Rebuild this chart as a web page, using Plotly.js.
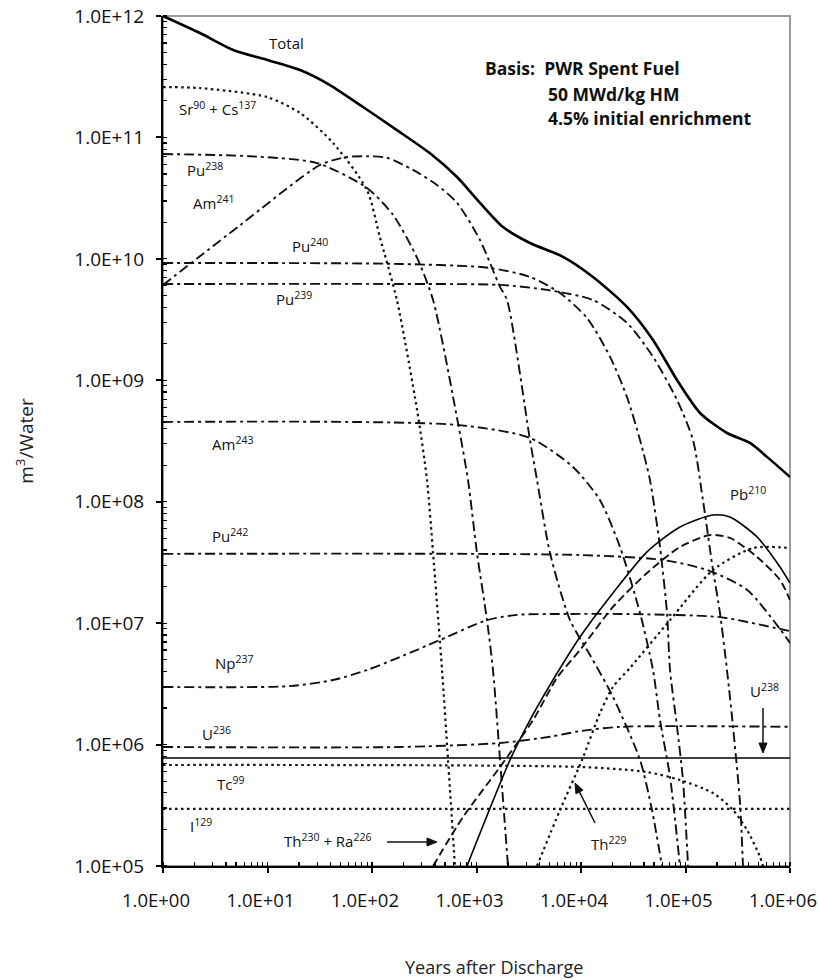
<!DOCTYPE html>
<html><head><meta charset="utf-8">
<script src="https://cdn.plot.ly/plotly-3.0.1.min.js"></script>
<style>html,body{margin:0;padding:0;background:#fff}</style>
</head><body>
<div id="chart" style="width:818px;height:980px"></div>
<script>
// ---- data (years after discharge, m3 water) ----
const totalX = [1, 2.26, 4.7, 9.9, 20.5, 39.6, 82, 173, 359, 651, 1080, 1794, 3250, 6730, 13030, 27540, 48860, 82980, 137700, 249500, 414000, 602500, 1000000];
const totalY = [1.0e12, 7.24e11, 5.25e11, 4.35e11, 3.59e11, 2.70e11, 1.78e11, 1.15e11, 7.4e10, 4.72e10, 2.89e10, 1.83e10, 1.35e10, 1.04e10, 7.1e9, 4.02e9, 2.15e9, 1.005e9, 5.38e8, 3.68e8, 3.05e8, 2.34e8, 1.60e8];

const srcsX = [1, 2.26, 9.9, 20.5, 42.4, 89.5, 119, 173, 270, 336, 384, 468, 534, 622];
const srcsY = [2.60e11, 2.55e11, 2.15e11, 1.59e11, 9.0e10, 3.69e10, 1.51e10, 4.58e9, 5.69e8, 1.51e8, 3.78e7, 4.11e6, 7.47e5, 1.0e5];

const pu238X = [1, 6.8, 29.8, 89.5, 159, 270, 384, 665, 829, 1011, 1260, 1438, 1679, 2001];
const pu238Y = [7.3e10, 7.0e10, 6.15e10, 3.84e10, 2.30e10, 1.02e10, 4.58e9, 4.45e8, 1.51e8, 3.78e7, 1.06e7, 4.11e6, 7.47e5, 1.0e5];

const am241X = [1, 5.5, 31.8, 57.6, 89.5, 139, 247, 419, 651, 1080, 1679, 1960, 3250, 3793, 5050, 7850, 12190, 20240, 36720, 47780, 59570];
const am241Y = [6.1e9, 1.90e10, 5.93e10, 6.9e10, 7.0e10, 6.8e10, 5.4e10, 4.06e10, 2.89e10, 1.43e10, 5.87e9, 4.58e9, 3.22e8, 1.51e8, 3.78e7, 1.06e7, 5.47e6, 2.47e6, 7.47e5, 2.89e5, 1.0e5];

const pu240X = [1, 185, 1346, 3250, 6295, 11410, 18970, 27540, 36720, 45710, 57020, 66530, 71120, 82980, 94590, 105700];
const pu240Y = [9.25e9, 9.08e9, 8.42e9, 7.1e9, 5.24e9, 3.26e9, 1.56e9, 7.28e8, 3.22e8, 1.51e8, 4.24e7, 1.21e7, 4.11e6, 1.40e6, 5.11e5, 1.0e5];

const pu239X = [1, 185, 1679, 4731, 13030, 27540, 48860, 82980, 118000, 146900, 183200, 213800, 249500, 285000, 332500, 355000];
const pu239Y = [6.21e9, 6.21e9, 6.10e9, 5.55e9, 4.58e9, 2.97e9, 1.56e9, 6.88e8, 3.22e8, 1.03e8, 2.74e7, 1.21e7, 4.11e6, 1.40e6, 3.30e5, 1.0e5];

const am243X = [1, 651, 3250, 8380, 15200, 23610, 36720, 48860, 57020, 71120, 88520];
const am243Y = [4.54e8, 4.29e8, 3.35e8, 1.93e8, 1.03e8, 4.24e7, 1.21e7, 4.11e6, 1.59e6, 5.41e5, 1.0e5];

const pu242X = [1, 9780, 60950, 160600, 388000, 802000, 1000000];
const pu242Y = [3.72e7, 3.64e7, 3.31e7, 2.74e7, 1.88e7, 8.95e6, 6.87e6];

const np237X = [1, 16.4, 42.4, 89.5, 185, 448, 1260, 2443, 7345, 23610, 213800, 802000, 1000000];
const np237Y = [2.98e6, 3.03e6, 3.40e6, 4.11e6, 5.26e6, 7.26e6, 1.06e7, 1.17e7, 1.19e7, 1.19e7, 1.12e7, 8.95e6, 8.6e6];

const u236X = [1, 185, 1679, 5050, 9780, 23610, 1000000];
const u236Y = [9.55e5, 9.55e5, 1.03e6, 1.16e6, 1.29e6, 1.40e6, 1.40e6];

const u238X = [1, 1000000];
const u238Y = [7.76e5, 7.76e5];

const tc99X = [1, 9780, 42850, 88520, 183200, 285000, 388000, 516700, 552000];
const tc99Y = [6.79e5, 6.54e5, 5.94e5, 5.11e5, 3.99e5, 2.89e5, 1.98e5, 1.19e5, 1.0e5];

const i129X = [1, 1000000];
const i129Y = [2.95e5, 2.95e5];

const th229X = [3793, 6295, 10230, 15200, 20240, 29440, 71120, 183200, 442500, 1000000];
const th229Y = [1.0e5, 2.89e5, 7.47e5, 1.82e6, 2.98e6, 4.28e6, 1.06e7, 2.74e7, 4.16e7, 4.16e7];

const pb210X = [811, 2093, 3250, 5395, 9780, 20240, 42850, 88520, 183200, 266600, 483500, 802000, 1000000];
const pb210Y = [1.0e5, 7.47e5, 1.59e6, 3.40e6, 7.69e6, 1.77e7, 3.86e7, 6.19e7, 7.78e7, 7.48e7, 5.13e7, 2.90e7, 2.14e7];

const thraX = [384, 743, 1679, 3474, 5890, 9780, 20240, 42850, 88520, 171400, 266600, 483500, 802000, 1000000];
const thraY = [1.0e5, 2.53e5, 6.54e5, 1.59e6, 3.54e6, 6.01e6, 1.36e7, 2.59e7, 4.24e7, 5.32e7, 5.03e7, 3.51e7, 2.27e7, 1.55e7];

const seriesNames = ['Total', 'Sr90 + Cs137', 'Pu238', 'Am241', 'Pu240', 'Pu239', 'Am243', 'Pu242', 'Np237', 'U236', 'U238', 'Tc99', 'I129', 'Th229', 'Pb210', 'Th230 + Ra226'];

const xTickVals = [1, 10, 100, 1000, 10000, 100000, 1000000];
const xTickText = ['1.0E+00', '1.0E+01', '1.0E+02', '1.0E+03', '1.0E+04', '1.0E+05', '1.0E+06'];
const yTickVals = [1e5, 1e6, 1e7, 1e8, 1e9, 1e10, 1e11, 1e12];
const yTickText = ['1.0E+05', '1.0E+06', '1.0E+07', '1.0E+08', '1.0E+09', '1.0E+10', '1.0E+11', '1.0E+12'];
const xTitle = 'Years after Discharge';
const yTitle = 'm<sup>3</sup>/Water';

// ---- styles ----
const DASHDOT = '10px,4px,3px,4px';
const DOT = '2.5px,3.5px';
const styles = {
  solidThick: {color: '#000', width: 2.6, dash: 'solid'},
  solid: {color: '#000', width: 1.6, dash: 'solid'},
  dot: {color: '#111', width: 2.2, dash: DOT},
  dashdot: {color: '#111', width: 1.9, dash: DASHDOT},
  dash: {color: '#111', width: 1.9, dash: '8px,4px'}
};

const defs = [
  [totalX, totalY, 'solidThick'],
  [srcsX, srcsY, 'dot'],
  [pu238X, pu238Y, 'dashdot'],
  [am241X, am241Y, 'dashdot'],
  [pu240X, pu240Y, 'dashdot'],
  [pu239X, pu239Y, 'dashdot'],
  [am243X, am243Y, 'dashdot'],
  [pu242X, pu242Y, 'dashdot'],
  [np237X, np237Y, 'dashdot'],
  [u236X, u236Y, 'dashdot'],
  [u238X, u238Y, 'solid'],
  [tc99X, tc99Y, 'dot'],
  [i129X, i129Y, 'dot'],
  [th229X, th229Y, 'dot'],
  [pb210X, pb210Y, 'solid'],
  [thraX, thraY, 'dash']
];

const traces = defs.map((d, i) => ({
  type: 'scatter', mode: 'lines', name: seriesNames[i],
  x: d[0], y: d[1],
  line: Object.assign({shape: 'spline', smoothing: 0.7}, styles[d[2]]),
  hoverinfo: 'name+x+y'
}));

const F = '"Open Sans", Lato, sans-serif';
// plot area in page pixels: left 163, right 790, top 16, bottom 866
const PX = p => (p - 163) / 627;
const PY = p => (866 - p) / 850;
function lab(text, px, py, size) {
  return {text: text, xref: 'paper', yref: 'paper', x: PX(px), y: PY(py),
    xanchor: 'left', yanchor: 'middle', showarrow: false, font: {family: F, size: size || 15, color: '#111'}};
}
function bold(text, px, py) {
  return lab('<b>' + text + '</b>', px, py, 17.5);
}
// arrow drawn as shapes: shaft line + filled triangular head
function arrowShapes(tx, ty, hx, hy) {
  const dx = hx - tx, dy = hy - ty, L = Math.hypot(dx, dy);
  const ux = dx / L, uy = dy / L, hl = 10, hw = 4;
  const bx = hx - ux * hl, by = hy - uy * hl;
  const p1x = bx - uy * hw, p1y = by + ux * hw, p2x = bx + uy * hw, p2y = by - ux * hw;
  return [
    {type: 'line', xref: 'paper', yref: 'paper', x0: PX(tx), y0: PY(ty), x1: PX(bx), y1: PY(by),
      line: {color: '#111', width: 1.5}},
    {type: 'path', xref: 'paper', yref: 'paper',
      path: 'M ' + PX(hx) + ' ' + PY(hy) + ' L ' + PX(p1x) + ' ' + PY(p1y) + ' L ' + PX(p2x) + ' ' + PY(p2y) + ' Z',
      fillcolor: '#111', line: {color: '#111', width: 1}}
  ];
}

const annotations = [
  lab('Total', 267, 43),
  lab('Sr<sup>90</sup> + Cs<sup>137</sup>', 177, 108),
  lab('Pu<sup>238</sup>', 185, 170),
  lab('Am<sup>241</sup>', 191, 203),
  lab('Pu<sup>240</sup>', 290, 245),
  lab('Pu<sup>239</sup>', 274, 298),
  lab('Am<sup>243</sup>', 210, 443),
  lab('Pu<sup>242</sup>', 210, 535),
  lab('Np<sup>237</sup>', 213, 662),
  lab('U<sup>236</sup>', 200, 733),
  lab('Tc<sup>99</sup>', 215, 783),
  lab('I<sup>129</sup>', 188, 825),
  lab('Th<sup>230</sup> + Ra<sup>226</sup>', 282, 840),
  lab('Th<sup>229</sup>', 589, 843),
  lab('U<sup>238</sup>', 748, 690),
  lab('Pb<sup>210</sup>', 728, 493),
  bold('Basis:\u00a0\u00a0PWR Spent Fuel', 483, 68),
  bold('50 MWd/kg HM', 546, 94),
  bold('4.5% initial enrichment', 546, 118),
  // x-axis title (placed as in the reference, right of plot centre)
  {text: xTitle, xref: 'paper', yref: 'paper', x: PX(494), y: PY(967), xanchor: 'center', yanchor: 'middle',
    showarrow: false, font: {family: F, size: 18, color: '#222'}}
];

const shapes = [{type: 'rect', xref: 'paper', yref: 'paper', x0: 0, x1: 1, y0: 0, y1: 1,
    line: {color: '#9a9a9a', width: 2}, layer: 'below'}]
  .concat(arrowShapes(387, 842, 437, 842))
  .concat(arrowShapes(595, 823, 575, 783))
  .concat(arrowShapes(763, 708, 763, 753));

const layout = {
  width: 818, height: 980,
  margin: {l: 163, r: 28, t: 16, b: 114},
  paper_bgcolor: '#fff', plot_bgcolor: '#fff',
  showlegend: false,
  font: {family: F, color: '#111'},
  xaxis: {
    type: 'log', range: [0, 6], tickmode: 'array', tickvals: xTickVals, ticktext: xTickText,
    showgrid: false, zeroline: false, showline: true, linecolor: '#000', linewidth: 2,
    ticks: 'outside', ticklen: 5, tickwidth: 2, tickcolor: '#000', ticklabelstandoff: 12,
    ticklabelshift: -7, ticklabeloverflow: 'allow',
    tickfont: {family: F, size: 18.5, color: '#111'},
    minor: {dtick: 'D1', ticks: 'inside', ticklen: 4, tickwidth: 1.2, tickcolor: '#000', showgrid: false}
  },
  yaxis: {
    type: 'log', range: [5, 12], tickmode: 'array', tickvals: yTickVals, ticktext: yTickText,
    showgrid: false, zeroline: false, showline: true, linecolor: '#000', linewidth: 2,
    ticks: 'outside', ticklen: 5, tickwidth: 2, tickcolor: '#000', ticklabelstandoff: 8,
    ticklabeloverflow: 'allow',
    tickfont: {family: F, size: 19, color: '#111'},
    minor: {dtick: 'D1', ticks: 'inside', ticklen: 4, tickwidth: 1.2, tickcolor: '#000', showgrid: false},
    title: {text: yTitle, standoff: 36, font: {family: F, size: 19, color: '#222'}}
  },
  shapes: shapes,
  annotations: annotations
};

Plotly.newPlot('chart', traces, layout, {displayModeBar: false, staticPlot: true});
</script>
</body></html>
